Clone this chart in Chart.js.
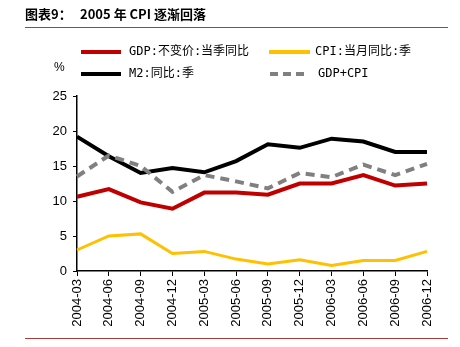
<!DOCTYPE html>
<html>
<head>
<meta charset="utf-8">
<script src="https://cdn.jsdelivr.net/npm/chart.js@4"></script>
<style>
  html, body { margin: 0; padding: 0; background: #fff; }
  #wrap { width: 460px; height: 347px; position: relative; }
</style>
</head>
<body>
<div id="wrap"><canvas id="myChart" width="460" height="347"></canvas></div>
<script>
// quarters on the x axis
let labels = ['2004-03', '2004-06', '2004-09', '2004-12', '2005-03', '2005-06',
              '2005-09', '2005-12', '2006-03', '2006-06', '2006-09', '2006-12'];

// series (%)
let gdp    = [10.6, 11.7, 9.8, 8.9, 11.2, 11.2, 10.9, 12.5, 12.5, 13.7, 12.2, 12.5];
let cpi    = [3.0, 5.0, 5.3, 2.5, 2.8, 1.7, 1.0, 1.6, 0.8, 1.5, 1.5, 2.8];
let m2     = [19.2, 16.4, 14.0, 14.7, 14.1, 15.7, 18.1, 17.6, 18.9, 18.5, 17.0, 17.0];
let gdpCpi = [13.5, 16.5, 15.0, 11.3, 13.7, 12.8, 11.8, 14.0, 13.4, 15.2, 13.7, 15.3];

let yTicks = [0, 5, 10, 15, 20, 25];

let legendItems = [
    {text: 'GDP:不变价:当季同比', color: '#C00000', dash: [], x: 81, len: 40, tx: 129, y: 52},
    {text: 'CPI:当月同比:季', color: '#FFC000', dash: [], x: 269, len: 41, tx: 315, y: 52},
    {text: 'M2:同比:季', color: '#000000', dash: [], x: 81, len: 40, tx: 129, y: 74},
    {text: 'GDP+CPI', color: '#808080', dash: [8, 5], x: 270, len: 37, tx: 318, y: 74}
];

// title, rules, unit and legend drawn by hand
let decor = {
    id: 'decor',
    beforeDraw(chart) {
        let c = chart.ctx;
        c.save();
        c.fillStyle = '#fff';
        c.fillRect(0, 0, chart.width, chart.height);
        c.fillStyle = '#000';
        c.textBaseline = 'middle';
        c.font = 'bold 13px "Noto Sans CJK SC", sans-serif';
        c.fillText('图表9：', 25, 14);
        c.fillText('2005 年 CPI 逐渐回落', 80, 14);
        c.strokeStyle = '#B03A3A';
        c.lineWidth = 1;
        c.beginPath();
        c.moveTo(25, 27.5); c.lineTo(448, 27.5);
        c.moveTo(25, 338.5); c.lineTo(448, 338.5);
        c.stroke();

        c.font = '12px "Liberation Sans", Arial, sans-serif';
        c.fillText('%', 54, 68);

        c.font = '12px "DejaVu Sans Mono", "Noto Sans CJK SC", monospace';
        legendItems.forEach(it => {
            c.strokeStyle = it.color;
            c.lineWidth = 4;
            c.setLineDash(it.dash);
            c.beginPath();
            c.moveTo(it.x, it.y);
            c.lineTo(it.x + it.len, it.y);
            c.stroke();
            c.setLineDash([]);
            c.fillStyle = '#000';
            c.fillText(it.text, it.tx, it.y);
        });
        c.restore();
    }
};

let ctx = document.getElementById('myChart');

let myChart = new Chart(ctx, {
    type: 'line',
    data: {
        labels: labels,
        datasets: [
            {label: 'GDP+CPI', data: gdpCpi, borderColor: '#808080', borderWidth: 4, borderDash: [9, 6]},
            {label: 'CPI:当月同比:季', data: cpi, borderColor: '#FFC000', borderWidth: 3},
            {label: 'GDP:不变价:当季同比', data: gdp, borderColor: '#C00000', borderWidth: 4},
            {label: 'M2:同比:季', data: m2, borderColor: '#000000', borderWidth: 4}
        ]
    },
    options: {
        responsive: false,
        animation: false,
        elements: {point: {radius: 0}, line: {tension: 0, fill: false}},
        plugins: {legend: {display: false}, tooltip: {enabled: false}},
        layout: {padding: {left: 0, right: 33, top: 96, bottom: 0}},
        scales: {
            x: {
                offset: false,
                grid: {drawOnChartArea: false, color: '#000', tickLength: 5},
                border: {color: '#000', width: 1.5},
                ticks: {
                    color: '#000', maxRotation: 90, minRotation: 90, autoSkip: false,
                    padding: 3,
                    font: {family: '"Liberation Sans", Arial, sans-serif', size: 13}
                },
                afterFit(scale) { scale.height = 76; }
            },
            y: {
                min: 0, max: 25,
                afterBuildTicks(scale) { scale.ticks = yTicks.map(v => ({value: v})); },
                grid: {drawOnChartArea: false, color: '#000', tickLength: 4},
                border: {color: '#000', width: 1.5},
                ticks: {
                    color: '#000', padding: 6,
                    font: {family: '"Liberation Sans", Arial, sans-serif', size: 13}
                },
                afterFit(scale) { scale.width = 77; }
            }
        }
    },
    plugins: [decor]
});
</script>
</body>
</html>
